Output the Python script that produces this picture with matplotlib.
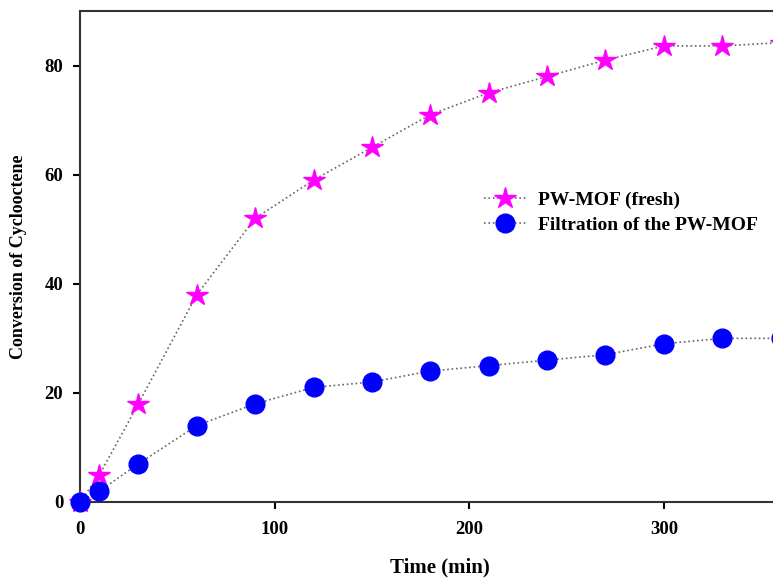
import matplotlib
matplotlib.use('Agg')
import matplotlib.pyplot as plt

plt.rcParams['font.family'] = ['Liberation Serif', 'DejaVu Serif']
plt.rcParams['font.weight'] = 'bold'

# conversion vs. time
time_fresh = [0, 10, 30, 60, 90, 120, 150, 180, 210, 240, 270, 300, 330, 360]
conv_fresh = [0, 5, 18, 38, 52, 59, 65, 71, 75, 78, 81, 83.6, 83.6, 84.2]

time_filt = [0, 10, 30, 60, 90, 120, 150, 180, 210, 240, 270, 300, 330, 360]
conv_filt = [0, 2, 7, 14, 18, 21, 22, 24, 25, 26, 27, 29, 30, 30]

x_ticks = [0, 100, 200, 300]
y_ticks = [0, 20, 40, 60, 80]

fig = plt.figure(figsize=(7.73, 5.79), dpi=100)
ax = fig.add_axes([0.1035, 0.133, 0.9315, 0.848])

ax.plot(time_fresh, conv_fresh, linestyle=':', color='#666666', linewidth=1.2,
        marker='*', markersize=16, markerfacecolor='#ff00ff', markeredgecolor='#ff00ff',
        label='PW-MOF (fresh)', clip_on=False, zorder=3)
ax.plot(time_filt, conv_filt, linestyle=':', color='#666666', linewidth=1.2,
        marker='o', markersize=13.5, markerfacecolor='#0000ff', markeredgecolor='#0000ff',
        label='Filtration of the PW-MOF', clip_on=False, zorder=4)

ax.set_xlim(0, 370)
ax.set_ylim(0, 90)
ax.set_xticks(x_ticks)
ax.set_yticks(y_ticks)
ax.tick_params(direction='out', length=5, width=1.5, labelsize=13.5)
ax.tick_params(axis='x', pad=9)
ax.tick_params(axis='y', pad=7)
for side in ['left', 'bottom', 'top', 'right']:
    ax.spines[side].set_linewidth(1.5)
    ax.spines[side].set_color('#333333')

ax.set_xlabel('Time (min)', fontsize=15, fontweight='bold', labelpad=14)
ax.set_ylabel('Conversion of Cyclooctene', fontsize=13, fontweight='bold', labelpad=13)

ax.legend(loc='center left', bbox_to_anchor=(0.603, 0.633), bbox_transform=fig.transFigure,
          frameon=False, handlelength=2.2, handletextpad=0.6,
          labelspacing=0.4, prop={'weight': 'bold', 'size': 14})

fig.savefig('out.png', dpi=100)
